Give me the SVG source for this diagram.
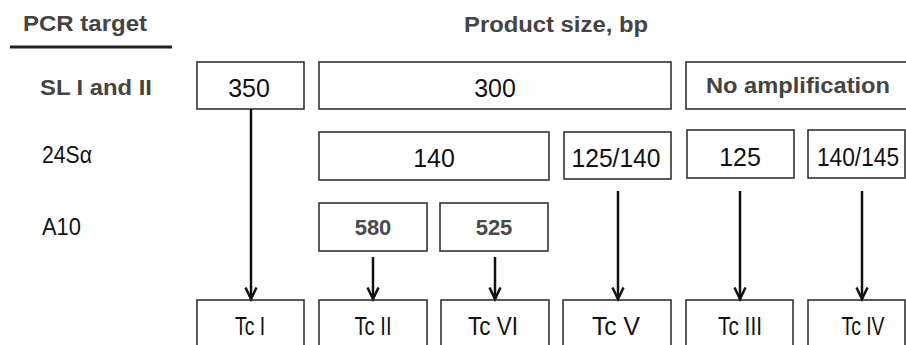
<svg xmlns="http://www.w3.org/2000/svg" width="906" height="345" viewBox="0 0 906 345">
  <style>
    .box { fill: #ffffff; stroke: #333333; stroke-width: 1.6; }
    .hdr { font-family: "Liberation Sans", Arial, sans-serif; font-weight: bold; font-size: 22px; fill: #444444; }
    .val { font-family: "Liberation Sans", Arial, sans-serif; font-size: 25px; fill: #111111; text-anchor: middle; }
    .bval { font-family: "Liberation Sans", Arial, sans-serif; font-weight: bold; font-size: 22px; fill: #4a4a4a; text-anchor: middle; }
    .lbl { font-family: "Liberation Sans", Arial, sans-serif; font-size: 23px; fill: #111111; }
    .tc { font-family: "Liberation Sans", Arial, sans-serif; font-size: 25px; fill: #111111; text-anchor: middle; }
    .conn { stroke: #111111; stroke-width: 2.5; fill: none; marker-end: url(#head); }
  </style>
  <defs>
    <marker id="head" markerUnits="userSpaceOnUse" markerWidth="16" markerHeight="16" viewBox="0 0 16 16" refX="13" refY="8" orient="auto">
      <path d="M1.5,2.5 L13,8 L1.5,13.5" fill="none" stroke="#111111" stroke-width="2.5" stroke-linejoin="miter"/>
    </marker>
  </defs>

  <rect width="906" height="345" fill="#ffffff"/>

  <!-- column headers -->
  <g id="header-target">
    <text class="hdr" x="23" y="31" textLength="124" lengthAdjust="spacingAndGlyphs">PCR target</text>
    <line x1="10" y1="47" x2="172" y2="47" stroke="#222222" stroke-width="3"/>
  </g>
  <g id="header-size">
    <text class="hdr" x="464" y="32" textLength="184" lengthAdjust="spacingAndGlyphs">Product size, bp</text>
  </g>

  <!-- row labels -->
  <g id="row-sl">
    <text class="hdr" x="40" y="95" textLength="112" lengthAdjust="spacingAndGlyphs">SL I and II</text>
  </g>
  <g id="row-24s">
    <text class="lbl" x="42" y="163" textLength="50" lengthAdjust="spacingAndGlyphs">24Sα</text>
  </g>
  <g id="row-a10">
    <text class="lbl" x="42" y="235" textLength="39" lengthAdjust="spacingAndGlyphs">A10</text>
  </g>

  <!-- SL I and II products -->
  <g id="sl-350">
    <rect class="box" x="197" y="62" width="107" height="47"/>
    <text class="val" x="249" y="97">350</text>
  </g>
  <g id="sl-300">
    <rect class="box" x="319" y="62" width="352" height="47"/>
    <text class="val" x="495" y="97">300</text>
  </g>
  <g id="sl-none">
    <rect class="box" x="686" y="62" width="224" height="47"/>
    <text class="hdr" x="706" y="93" textLength="184" lengthAdjust="spacingAndGlyphs">No amplification</text>
  </g>

  <!-- 24Sα products -->
  <g id="s24-140">
    <rect class="box" x="319" y="132" width="230" height="48"/>
    <text class="val" x="434" y="167">140</text>
  </g>
  <g id="s24-125-140">
    <rect class="box" x="564" y="132" width="107" height="47"/>
    <text class="val" x="616" y="167" textLength="89" lengthAdjust="spacingAndGlyphs">125/140</text>
  </g>
  <g id="s24-125">
    <rect class="box" x="687" y="130" width="107" height="48"/>
    <text class="val" x="740" y="166">125</text>
  </g>
  <g id="s24-140-145">
    <rect class="box" x="808" y="130" width="97" height="48"/>
    <text class="val" x="858" y="166" textLength="82" lengthAdjust="spacingAndGlyphs">140/145</text>
  </g>

  <!-- A10 products -->
  <g id="a10-580">
    <rect class="box" x="319" y="203" width="108" height="48"/>
    <text class="bval" x="373" y="235">580</text>
  </g>
  <g id="a10-525">
    <rect class="box" x="440" y="203" width="108" height="48"/>
    <text class="bval" x="494" y="235">525</text>
  </g>

  <!-- lineages -->
  <g id="tc-1">
    <rect class="box" x="197" y="300" width="107" height="50"/>
    <text class="tc" x="250" y="335" textLength="30" lengthAdjust="spacingAndGlyphs">Tc I</text>
  </g>
  <g id="tc-2">
    <rect class="box" x="319" y="300" width="108" height="50"/>
    <text class="tc" x="373" y="335" textLength="37" lengthAdjust="spacingAndGlyphs">Tc II</text>
  </g>
  <g id="tc-6">
    <rect class="box" x="441" y="300" width="108" height="50"/>
    <text class="tc" x="493" y="335" textLength="50" lengthAdjust="spacingAndGlyphs">Tc VI</text>
  </g>
  <g id="tc-5">
    <rect class="box" x="563" y="300" width="108" height="50"/>
    <text class="tc" x="616" y="335" textLength="48" lengthAdjust="spacingAndGlyphs">Tc V</text>
  </g>
  <g id="tc-3">
    <rect class="box" x="686" y="300" width="107" height="50"/>
    <text class="tc" x="740" y="335" textLength="44" lengthAdjust="spacingAndGlyphs">Tc III</text>
  </g>
  <g id="tc-4">
    <rect class="box" x="808" y="300" width="97" height="50"/>
    <text class="tc" x="863" y="335" textLength="43" lengthAdjust="spacingAndGlyphs">Tc IV</text>
  </g>

  <!-- connectors -->
  <g id="connectors">
    <line class="conn" x1="251" y1="109" x2="251" y2="299"/>
    <line class="conn" x1="373" y1="257" x2="373" y2="299"/>
    <line class="conn" x1="495" y1="257" x2="495" y2="299"/>
    <line class="conn" x1="618" y1="191" x2="618" y2="299"/>
    <line class="conn" x1="740" y1="191" x2="740" y2="299"/>
    <line class="conn" x1="862" y1="191" x2="862" y2="299"/>
  </g>
</svg>
